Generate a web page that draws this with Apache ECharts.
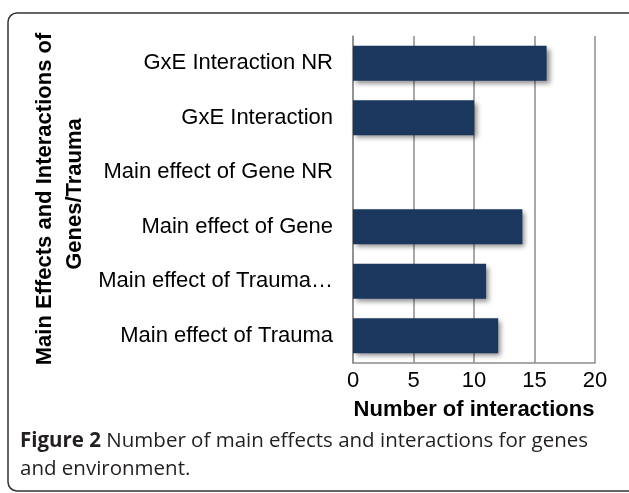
<!DOCTYPE html>
<html>
<head>
<meta charset="utf-8">
<script src="https://cdn.jsdelivr.net/npm/echarts@6/dist/echarts.min.js"></script>
<style>
  html, body { margin: 0; padding: 0; background: #fff; }
  #chart { width: 629px; height: 493px; }
</style>
</head>
<body>
<div id="chart"></div>
<script>
// bottom to top, as drawn
const categories = [
  'Main effect of Trauma',
  'Main effect of Trauma…',
  'Main effect of Gene',
  'Main effect of Gene NR',
  'GxE Interaction',
  'GxE Interaction NR'
]
const interactions = [12, 11, 14, 0, 10, 16]
const xTicks = { min: 0, max: 20, interval: 5 }

const chart = echarts.init(document.getElementById('chart'))

const option = {
  animation: false,
  grid: { left: 353, right: 34, top: 36, bottom: 130 },
  xAxis: {
    type: 'value',
    min: xTicks.min,
    max: xTicks.max,
    interval: xTicks.interval,
    name: 'Number of interactions',
    nameLocation: 'middle',
    nameGap: 36,
    nameTextStyle: { fontFamily: 'Liberation Sans', fontSize: 22, fontWeight: 'bold', color: '#000' },
    axisLine: { show: true, lineStyle: { color: '#8c8c8c', width: 1.5 } },
    axisTick: { show: false },
    axisLabel: { fontFamily: 'Liberation Sans', fontSize: 22, color: '#000', margin: 7 },
    splitLine: { show: true, lineStyle: { color: '#8c8c8c', width: 1.5 } }
  },
  yAxis: {
    type: 'category',
    data: categories,
    axisLine: { show: true, lineStyle: { color: '#8c8c8c', width: 1.5 } },
    axisTick: { show: false },
    axisLabel: { fontFamily: 'Liberation Sans', fontSize: 22, color: '#000', margin: 20 }
  },
  series: [{
    type: 'bar',
    data: interactions,
    barWidth: 35,
    itemStyle: {
      color: '#1b375e',
      shadowColor: 'rgba(0,0,0,0.45)',
      shadowBlur: 5,
      shadowOffsetX: 3,
      shadowOffsetY: 3
    }
  }],
  graphic: [
    {
      type: 'rect',
      shape: { x: 8, y: 13, width: 640, height: 478, r: 9 },
      style: { fill: 'none', stroke: '#333', lineWidth: 1.5 },
      z: -1
    },
    {
      type: 'text',
      x: 45, y: 199,
      rotation: Math.PI / 2,
      style: {
        text: 'Main Effects and Interactions of',
        font: 'bold 22px "Liberation Sans"',
        fill: '#000',
        align: 'center',
        verticalAlign: 'middle'
      }
    },
    {
      type: 'text',
      x: 75, y: 194,
      rotation: Math.PI / 2,
      style: {
        text: 'Genes/Trauma',
        font: 'bold 22px "Liberation Sans"',
        fill: '#000',
        align: 'center',
        verticalAlign: 'middle'
      }
    },
    {
      type: 'text',
      left: 20, top: 427,
      style: {
        text: '{b|Figure 2} Number of main effects and interactions for genes\nand environment.',
        font: '20.5px "Open Sans"',
        fill: '#231f20',
        lineHeight: 28,
        rich: {
          b: { font: 'bold 20.5px "Open Sans"', fill: '#231f20', lineHeight: 28 }
        }
      }
    }
  ]
}

chart.setOption(option)
</script>
</body>
</html>
